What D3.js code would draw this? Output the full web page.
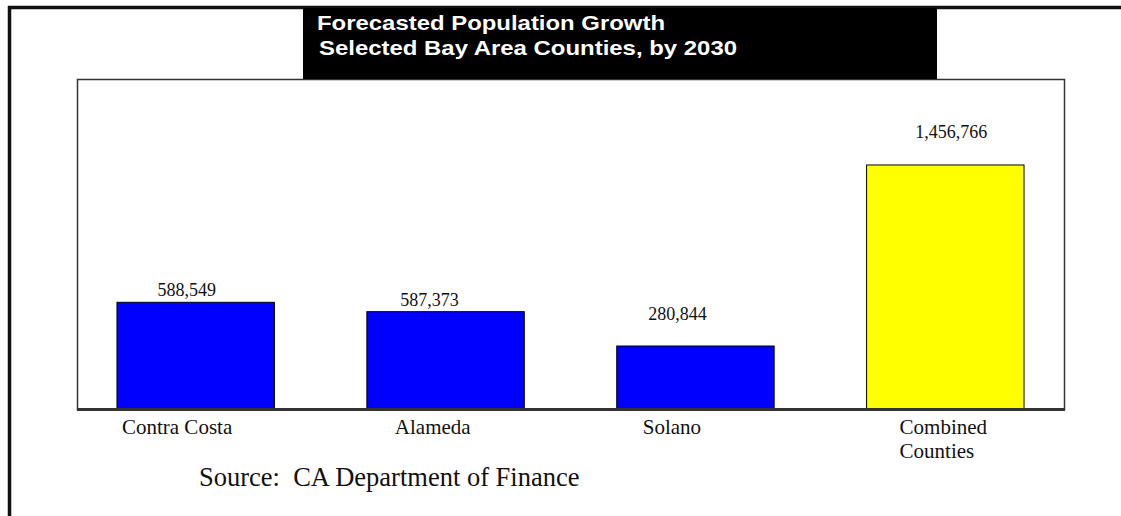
<!DOCTYPE html>
<html>
<head>
<meta charset="utf-8">
<script src="https://cdn.jsdelivr.net/npm/d3@7"></script>
<style>
  body { margin: 0; background: #fff; }
  svg { display: block; }
</style>
</head>
<body>
<div id="container"></div>
<script>
// Forecasted population growth bar chart

const counties = ["Contra Costa", "Alameda", "Solano", "Combined Counties"]
const growth = [588549, 587373, 280844, 1456766]
// bar heights as they were drawn in the original (not to scale with the labels)
const barLevels = [637000, 581000, 376000, 1456766]
const barColors = ["#0000ff", "#0000ff", "#0000ff", "#ffff00"]
const titleLines = ["Forecasted Population Growth", "Selected Bay Area Counties, by 2030"]
const sourceNote = "Source:  CA Department of Finance"

const width = 1121,
    height = 516
let plot = {
    left: 77,
    right: 1064,
    top: 79,
    base: 409,
}

const svg = d3.select("#container")
    .append("svg")
    .attr("width", width)
    .attr("height", height)

// outer frame (top + left only)
svg.append("path")
    .attr("d", `M9.5,${height} V7.5 H${width}`)
    .attr("fill", "none")
    .attr("stroke", "#111")
    .attr("stroke-width", 3.5)

// plot box
svg.append("rect")
    .attr("x", plot.left + 0.5)
    .attr("y", plot.top + 0.5)
    .attr("width", plot.right - plot.left)
    .attr("height", plot.base - plot.top)
    .attr("fill", "#fff")
    .attr("stroke", "#333")
    .attr("stroke-width", 1.5)

// title block
const title = svg.append("g").attr("id", "title")
title.append("rect")
    .attr("x", 303)
    .attr("y", 8)
    .attr("width", 634)
    .attr("height", 71)
    .attr("fill", "#000")
title.selectAll("text")
    .data(titleLines)
    .enter()
    .append("text")
    .attr("x", (d, i) => i ? 319 : 317)
    .attr("y", (d, i) => 30 + i * 25)
    .attr("textLength", (d, i) => i ? 418 : 348)
    .attr("lengthAdjust", "spacingAndGlyphs")
    .attr("fill", "#fff")
    .attr("font-family", "'Liberation Sans', Arial, sans-serif")
    .attr("font-weight", "bold")
    .attr("font-size", 21)
    .text(d => d)

const xScale = d3.scaleBand()
    .domain(counties)
    .range([plot.left, plot.right])
    .paddingInner(0.37)
    .paddingOuter(0.16)

const yScale = d3.scaleLinear()
    .domain([0, 1970000])
    .range([plot.base, plot.top])

const data = counties.map((c, i) => ({
    county: c,
    value: growth[i],
    level: barLevels[i],
    color: barColors[i],
}))

svg.append("g").attr("class", "bars")
    .selectAll("rect")
    .data(data)
    .enter()
    .append("rect")
    .attr("x", d => xScale(d.county))
    .attr("y", d => yScale(d.level))
    .attr("width", xScale.bandwidth())
    .attr("height", d => yScale(0) - yScale(d.level))
    .attr("fill", d => d.color)
    .attr("stroke", "#000")
    .attr("stroke-width", 1)

// baseline
svg.append("line")
    .attr("x1", plot.left)
    .attr("x2", plot.right + 1)
    .attr("y1", plot.base + 0.5)
    .attr("y2", plot.base + 0.5)
    .attr("stroke", "#333")
    .attr("stroke-width", 3)

// value labels sit a little off the bars, as in the original
const valueNudge = [[-9, 6], [-16, 6], [-18, 26], [6, 27]]
svg.append("g").attr("class", "values")
    .selectAll("text")
    .data(data)
    .enter()
    .append("text")
    .attr("x", (d, i) => xScale(d.county) + xScale.bandwidth() / 2 + valueNudge[i][0])
    .attr("y", (d, i) => yScale(d.level) - valueNudge[i][1])
    .attr("text-anchor", "middle")
    .attr("font-family", "'Liberation Serif', 'Times New Roman', serif")
    .attr("font-size", 18)
    .attr("fill", "#111")
    .text(d => d3.format(",")(d.value))

// category labels, left aligned inside each band
const labelShift = [5, 28, 26, 33]
const cats = svg.append("g").attr("class", "categories")
    .selectAll("text")
    .data(data)
    .enter()
    .append("text")
    .attr("font-family", "'Liberation Serif', 'Times New Roman', serif")
    .attr("font-size", 21)
    .attr("fill", "#111")
cats.each(function (d, i) {
    let words = d.county === "Combined Counties" ? ["Combined", "Counties"] : [d.county]
    d3.select(this).selectAll("tspan")
        .data(words)
        .enter()
        .append("tspan")
        .attr("x", xScale(d.county) + labelShift[i])
        .attr("y", (w, j) => 434 + j * 24)
        .text(w => w)
})

svg.append("text")
    .attr("x", 199)
    .attr("y", 486)
    .attr("font-family", "'Liberation Serif', 'Times New Roman', serif")
    .attr("font-size", 26.5)
    .attr("fill", "#111")
    .style("white-space", "pre")
    .text(sourceNote)
</script>
</body>
</html>
